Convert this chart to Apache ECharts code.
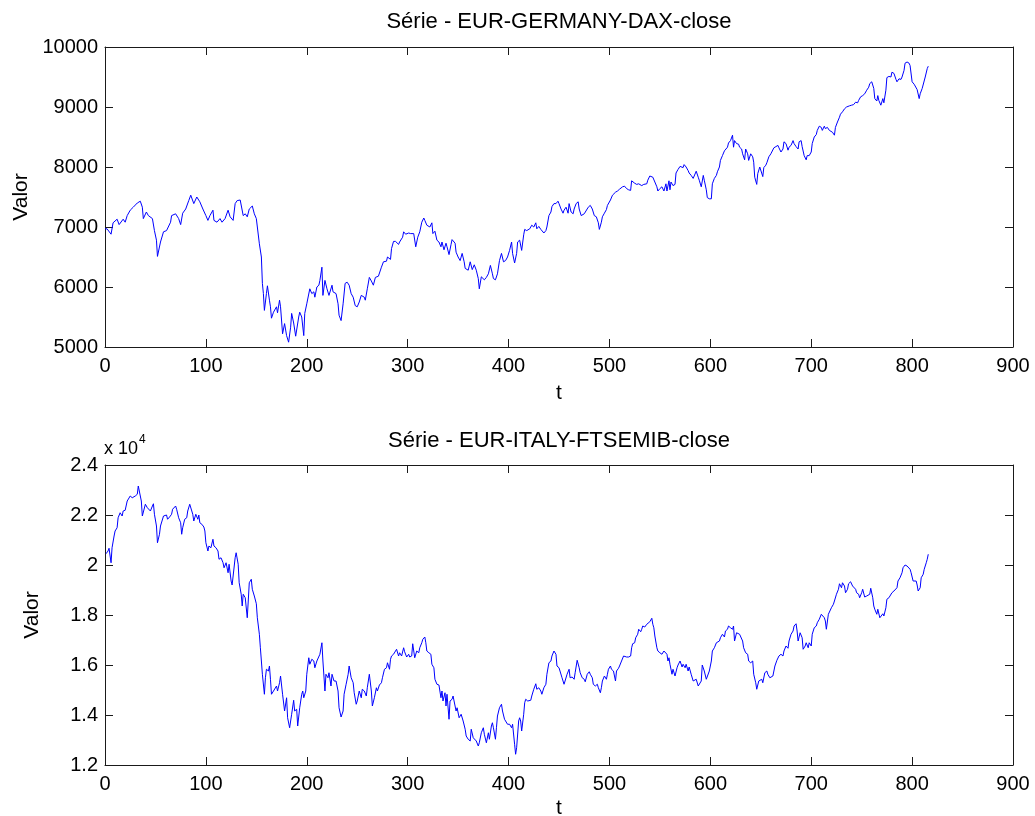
<!DOCTYPE html>
<html>
<head>
<meta charset="utf-8">
<script src="https://cdn.jsdelivr.net/npm/echarts@6/dist/echarts.min.js"></script>
<style>
  html, body { margin: 0; padding: 0; background: #fff; }
  #chart { width: 1035px; height: 816px; }
</style>
</head>
<body>
<div id="chart"></div>
<script>
// ========================================
// DATA
// ========================================

var xTicks = [0, 100, 200, 300, 400, 500, 600, 700, 800, 900];
var titles = ['Série - EUR-GERMANY-DAX-close', 'Série - EUR-ITALY-FTSEMIB-close'];

// [t, close]
var daxPoints = [
  [0,6970],[2,6970],[6,6880],[8,7070],[12,7130],[14,7040],[18,7130],[20,7080],[22,7190],[25,7280],
  [28,7330],[32,7400],[35,7430],[37,7330],[38,7140],[41,7250],[43,7190],[47,7140],[49,6940],[51,6780],
  [52,6510],[55,6750],[58,6920],[61,6940],[65,7080],[66,7190],[70,7220],[73,7140],[75,7040],[77,7230],
  [80,7300],[83,7440],[85,7530],[88,7390],[91,7500],[94,7420],[97,7300],[100,7190],[102,7110],[104,7190],
  [107,7280],[108,7110],[111,7080],[114,7140],[116,7080],[119,7140],[122,7280],[124,7170],[127,7110],[129,7390],
  [131,7440],[134,7450],[137,7190],[139,7220],[141,7170],[143,7300],[146,7350],[148,7220],[150,7140],[153,6720],
  [155,6500],[156,6060],[157,5890],[158,5610],[160,5890],[161,6020],[163,5780],[164,5670],[165,5480],[167,5580],
  [170,5670],[171,5570],[173,5780],[174,5670],[176,5220],[178,5390],[180,5190],[182,5080],[184,5330],[185,5560],
  [187,5400],[189,5180],[192,5500],[193,5580],[195,5500],[197,5190],[198,5560],[200,5720],[203,5970],[205,5890],
  [207,5920],[208,5830],[210,6000],[212,6030],[213,6110],[215,6330],[216,5860],[218,6110],[220,5970],[222,5860],
  [225,6030],[226,5920],[229,5890],[231,5720],[232,5530],[234,5440],[236,5720],[238,6060],[240,6080],[242,6030],
  [244,5890],[246,5830],[248,5690],[250,5670],[252,5750],[254,5860],[257,5830],[258,5780],[260,5970],[262,6160],
  [264,6100],[266,6030],[268,6160],[271,6180],[274,6330],[276,6420],[279,6430],[280,6500],[283,6460],[284,6640],
  [286,6760],[288,6760],[291,6710],[292,6750],[295,6830],[296,6920],[298,6880],[301,6900],[303,6890],[306,6890],
  [308,6670],[310,6830],[312,6920],[314,7080],[316,7150],[317,7110],[319,7030],[320,7060],[322,7000],[324,7070],
  [325,6890],[327,6930],[329,6780],[331,6750],[333,6670],[334,6750],[336,6620],[338,6730],[339,6670],[341,6540],
  [343,6710],[344,6790],[347,6730],[348,6580],[350,6500],[352,6440],[354,6560],[356,6420],[357,6310],[360,6280],
  [362,6420],[364,6290],[366,6370],[368,6280],[370,6140],[371,5970],[373,6170],[376,6120],[378,6160],[380,6220],
  [382,6360],[384,6220],[385,6140],[387,6120],[389,6220],[391,6440],[393,6560],[395,6420],[397,6440],[399,6500],
  [401,6610],[403,6750],[404,6560],[406,6400],[408,6560],[409,6750],[411,6780],[413,6610],[415,6870],[416,6960],
  [418,6940],[421,6970],[423,7030],[425,7000],[427,7070],[428,6970],[430,7010],[432,6960],[433,6990],[435,6900],
  [437,6940],[438,7000],[440,7190],[442,7250],[443,7340],[445,7390],[447,7390],[449,7430],[450,7390],[452,7300],
  [454,7230],[455,7280],[457,7330],[459,7230],[460,7390],[462,7250],[464,7220],[465,7300],[467,7390],[469,7420],
  [470,7300],[472,7190],[475,7220],[476,7250],[479,7330],[481,7360],[483,7300],[485,7190],[487,7170],[489,7070],
  [490,6960],[492,7080],[493,7170],[495,7230],[497,7290],[498,7360],[499,7380],[501,7450],[503,7530],[506,7580],
  [508,7600],[510,7630],[513,7670],[515,7680],[517,7640],[519,7620],[521,7610],[522,7770],[525,7730],[527,7710],
  [529,7720],[532,7690],[534,7710],[537,7720],[538,7780],[540,7850],[543,7830],[545,7750],[547,7670],[548,7600],
  [550,7640],[552,7670],[554,7600],[556,7720],[557,7600],[559,7770],[560,7620],[561,7750],[563,7690],[565,7710],
  [566,7900],[568,7960],[570,8010],[573,7990],[574,8040],[576,8000],[578,7940],[579,7900],[581,7860],[583,7810],
  [584,7840],[586,7930],[588,7830],[589,7780],[591,7670],[593,7860],[594,7780],[596,7620],[597,7490],[599,7470],
  [601,7470],[602,7720],[604,7810],[606,7860],[607,7920],[609,8000],[610,8110],[612,8190],[614,8270],[615,8300],
  [617,8330],[618,8400],[620,8440],[622,8530],[623,8330],[624,8440],[626,8390],[628,8380],[629,8330],[631,8300],
  [632,8220],[634,8120],[635,8300],[637,8220],[638,8110],[640,8220],[642,8170],[643,8080],[644,7830],[646,7710],
  [647,7890],[649,8000],[650,7970],[652,7840],[653,7990],[655,8030],[656,8070],[658,8170],[660,8220],[661,8250],
  [663,8320],[665,8340],[667,8360],[668,8320],[670,8250],[672,8300],[673,8420],[675,8390],[677,8280],[678,8330],
  [680,8360],[682,8440],[683,8390],[685,8340],[687,8300],[688,8420],[690,8440],[691,8340],[693,8190],[695,8120],
  [696,8190],[698,8190],[700,8250],[701,8390],[703,8500],[705,8540],[706,8610],[708,8680],[710,8660],[711,8610],
  [713,8680],[714,8640],[716,8660],[718,8610],[719,8610],[721,8580],[723,8530],[724,8660],[726,8750],[728,8830],
  [729,8880],[731,8920],[733,8970],[735,9000],[738,9020],[740,9030],[742,9040],[744,9080],[746,9070],[747,9110],
  [749,9170],[751,9190],[753,9220],[755,9280],[757,9330],[758,9390],[760,9420],[762,9310],[763,9140],[765,9100],
  [766,9190],[767,9110],[769,9030],[770,9000],[771,9140],[772,9070],[774,9280],[775,9490],[777,9510],[779,9500],
  [780,9580],[782,9560],[784,9460],[785,9420],[787,9470],[789,9460],[790,9500],[792,9610],[793,9730],[795,9750],
  [797,9730],[798,9690],[800,9420],[802,9380],[803,9390],[805,9290],[807,9140],[808,9220],[810,9310],[811,9330],
  [813,9500],[815,9640],[816,9680]
];

// [t, close]
var ftsePoints = [
  [1,20450],[3,20560],[4,20670],[6,20090],[7,20690],[9,21160],[10,21360],[12,21490],[13,21890],[15,22090],
  [17,21960],[18,22160],[20,22190],[22,22560],[23,22490],[25,22760],[27,22690],[28,22630],[30,22760],[32,22830],
  [33,23160],[34,23090],[36,22560],[37,21960],[38,21960],[40,22430],[42,22290],[43,22230],[45,22160],[47,22360],
  [48,22450],[49,22030],[51,21560],[52,20890],[54,21230],[55,21560],[58,21960],[61,22000],[62,21830],[64,21920],
  [66,22030],[67,22230],[70,22360],[71,22230],[73,21890],[75,21690],[76,21230],[77,21490],[79,21830],[81,21890],
  [82,22160],[84,22430],[85,22360],[87,22030],[88,21760],[90,22030],[92,21830],[93,22000],[94,21690],[96,21630],
  [98,21520],[99,21360],[100,20890],[102,20560],[103,20760],[105,20690],[107,21030],[108,20760],[110,20690],[112,20560],
  [113,20230],[115,20290],[117,20090],[118,19890],[120,20090],[122,19690],[123,20030],[125,19360],[126,19200],[127,19560],
  [129,20290],[130,20490],[132,20030],[133,19290],[135,18830],[136,18360],[137,18830],[139,18690],[141,17890],[142,18560],
  [143,19290],[145,19430],[146,19030],[148,18760],[150,18450],[151,17890],[153,17230],[154,16690],[155,16160],[156,15630],
  [158,14830],[159,15490],[160,15830],[162,15760],[163,15960],[164,15430],[165,14830],[167,14960],[170,15160],[171,14960],
  [173,15290],[174,15560],[176,14830],[178,14160],[180,14690],[181,13890],[183,13490],[185,14030],[187,14590],[188,14160],
  [190,14230],[191,13560],[193,14290],[195,14830],[196,14960],[197,14690],[199,14960],[200,15630],[202,16290],[203,16030],
  [205,16230],[207,16160],[208,15890],[210,16160],[211,16230],[213,16430],[215,16890],[216,16160],[218,14960],[219,15630],
  [221,15490],[222,15690],[224,15160],[225,15630],[227,15360],[229,15360],[231,14960],[232,14290],[234,13920],[236,14160],
  [237,14830],[239,15230],[241,15630],[242,15960],[244,15490],[246,15290],[247,14890],[249,14430],[250,14560],[252,14960],
  [254,14690],[255,15030],[257,14960],[259,14760],[260,15090],[262,15630],[264,14960],[265,14360],[267,14690],[269,15090],
  [270,14960],[272,15200],[274,15290],[275,15490],[277,15830],[279,15890],[280,16090],[282,15830],[283,16230],[284,16360],
  [286,16430],[287,16490],[289,16630],[291,16360],[292,16490],[294,16360],[296,16690],[297,16530],[299,16320],[301,16430],
  [302,16320],[304,16360],[305,16850],[307,16290],[309,16560],[311,16490],[312,16690],[314,16890],[315,17030],[317,17120],
  [318,16890],[319,16560],[321,16490],[323,16430],[324,16030],[326,15890],[327,15430],[329,15230],[331,15200],[333,14690],
  [334,14960],[335,14560],[337,14890],[338,14360],[339,14830],[341,13830],[342,14560],[344,14630],[345,14760],[346,14560],
  [348,14160],[349,14290],[351,13890],[353,14030],[355,13760],[357,13430],[358,13160],[360,13030],[362,12960],[363,13430],
  [365,13090],[366,13120],[368,12960],[370,12760],[371,12890],[373,13290],[375,13490],[376,13230],[378,12890],[380,13290],
  [381,13030],[383,13560],[384,13690],[385,13490],[387,13030],[388,13490],[389,13960],[391,14290],[393,14430],[394,14160],
  [396,13830],[397,13830],[399,13630],[401,13630],[403,13490],[404,13630],[406,12830],[407,12430],[408,12690],[410,13760],
  [411,13890],[412,13760],[413,13360],[415,14030],[416,14490],[417,14630],[419,14560],[422,14590],[423,14760],[425,15030],
  [427,15250],[428,15030],[430,15090],[432,14960],[433,14830],[435,15090],[437,15230],[438,15630],[440,16090],[442,16160],
  [443,16360],[445,16560],[447,16430],[448,15960],[450,15890],[451,15920],[453,15490],[455,15230],[456,15360],[458,15630],
  [460,15830],[461,15490],[463,15520],[465,15430],[466,15690],[468,16190],[470,15890],[471,15690],[473,15490],[475,15430],
  [476,15330],[478,15630],[480,15730],[481,15630],[483,15490],[484,15230],[486,15160],[488,15230],[489,15090],[491,14890],
  [492,15090],[493,15360],[495,15560],[497,15430],[498,15630],[499,15830],[501,15960],[502,15830],[504,15760],[506,15360],
  [507,15760],[509,15870],[510,15960],[512,16160],[514,16360],[515,16320],[517,16320],[519,16320],[521,16360],[522,16690],
  [523,16850],[525,16890],[526,17090],[528,17230],[529,17430],[531,17330],[532,17430],[533,17560],[535,17520],[537,17630],
  [538,17690],[540,17730],[542,17870],[543,17630],[544,17490],[545,17160],[547,16690],[548,16560],[550,16490],[551,16560],
  [552,16430],[554,16560],[555,16630],[557,16430],[558,16160],[559,16290],[560,16030],[562,15630],[563,15830],[564,15760],
  [565,15560],[567,15890],[568,16000],[570,16160],[572,15920],[573,16030],[575,15890],[576,16030],[578,15760],[579,15920],
  [581,15630],[583,15360],[584,15290],[586,15430],[588,15160],[589,15230],[591,15360],[592,16000],[594,15760],[596,15430],
  [597,15360],[599,15760],[601,16160],[602,16560],[604,16690],[606,16890],[607,16830],[609,16960],[610,17090],[612,17230],
  [614,17120],[615,17360],[617,17430],[618,17560],[620,17490],[622,17430],[623,17560],[624,16960],[626,17290],[627,17290],
  [629,17230],[630,17160],[632,16960],[633,16690],[635,16490],[637,16430],[638,16160],[640,16090],[642,16160],[643,15630],
  [645,15290],[646,15030],[648,15360],[649,15360],[651,15430],[652,15290],[654,15690],[656,15760],[657,15630],[659,15490],
  [660,15430],[662,15560],[664,15960],[666,16190],[667,16230],[668,16360],[670,16430],[672,16360],[673,16560],[675,16760],
  [677,16670],[678,16960],[680,17230],[682,17360],[683,17560],[685,17650],[686,17360],[687,16960],[689,17290],[690,17290],
  [691,17090],[692,16630],[694,16760],[695,16890],[697,16690],[698,16890],[700,16760],[701,17230],[703,17490],[705,17560],
  [706,17690],[708,17830],[710,18030],[711,18000],[713,17890],[714,17760],[715,17430],[717,18030],[718,18050],[720,18290],
  [722,18430],[723,18560],[725,18830],[727,19030],[728,19250],[730,19090],[731,19290],[733,19160],[734,18890],[736,19030],
  [737,19250],[739,19330],[741,19160],[742,19230],[744,19030],[745,18890],[747,18830],[748,18690],[750,18890],[751,19030],
  [753,18720],[755,18760],[756,18830],[758,18830],[759,19070],[761,18690],[762,18360],[763,18230],[765,18030],[766,18230],
  [768,17890],[769,17830],[771,18050],[772,17960],[774,18290],[775,18630],[777,18690],[778,18690],[780,18890],[782,18960],
  [783,18960],[785,19090],[786,19360],[788,19490],[790,19690],[791,19890],[793,20000],[795,19960],[796,19960],[798,19830],
  [799,19690],[801,19360],[802,19290],[804,19360],[805,19200],[806,18960],[808,19090],[809,19490],[811,19630],[812,19830],
  [814,20090],[815,20230],[816,20430]
];

// ========================================
// STYLE HELPERS
// ========================================

var FONT = "'Liberation Sans', Arial, sans-serif";
var AXIS_COLOR = '#1a1a1a';

function boxAxis(gridIndex, position, opts) {
  var isX = position === 'bottom' || position === 'top';
  var main = position === 'bottom' || position === 'left';
  var axis = {
    type: 'value',
    gridIndex: gridIndex,
    position: position,
    min: opts.min,
    max: opts.max,
    interval: opts.interval,
    axisLine: { show: true, onZero: false, lineStyle: { color: AXIS_COLOR, width: 1 } },
    axisTick: { show: true, inside: true, length: 8, lineStyle: { color: AXIS_COLOR, width: 1 } },
    splitLine: { show: false },
    axisLabel: {
      show: main,
      color: '#000',
      fontFamily: FONT,
      fontSize: 20,
      margin: isX ? 9 : 7,
      formatter: opts.formatter || function (v) { return String(v); }
    }
  };
  if (main && opts.name) {
    axis.name = opts.name;
    axis.nameLocation = 'middle';
    axis.nameGap = opts.nameGap;
    axis.nameTextStyle = { color: '#000', fontFamily: FONT, fontSize: 21 };
  }
  return axis;
}

var xOpts = { min: 0, max: 900, interval: 100 };
var daxY = { min: 5000, max: 10000, interval: 1000 };
var ftseY = {
  min: 12000, max: 24000, interval: 2000,
  formatter: function (v) { return String(Math.round(v / 1000) / 10); }
};

var chart = echarts.init(document.getElementById('chart'), null, { renderer: 'canvas' });

chart.setOption({
  animation: false,
  backgroundColor: '#fff',
  grid: [
    { left: 105, right: 22, top: 47, height: 300, outerBoundsMode: 'none', containLabel: false },
    { left: 105, right: 22, top: 465, height: 300, outerBoundsMode: 'none', containLabel: false }
  ],
  xAxis: [
    boxAxis(0, 'bottom', Object.assign({ name: 't', nameGap: 36 }, xOpts)),
    boxAxis(0, 'top', xOpts),
    boxAxis(1, 'bottom', Object.assign({ name: 't', nameGap: 33 }, xOpts)),
    boxAxis(1, 'top', xOpts)
  ],
  yAxis: [
    boxAxis(0, 'left', Object.assign({ name: 'Valor', nameGap: 70 }, daxY)),
    boxAxis(0, 'right', daxY),
    boxAxis(1, 'left', Object.assign({ name: 'Valor', nameGap: 62 }, ftseY)),
    boxAxis(1, 'right', ftseY)
  ],
  series: [
    {
      type: 'line',
      xAxisIndex: 0,
      yAxisIndex: 0,
      data: daxPoints,
      showSymbol: false,
      lineStyle: { color: '#0000ff', width: 1 }
    },
    {
      type: 'line',
      xAxisIndex: 2,
      yAxisIndex: 2,
      data: ftsePoints,
      showSymbol: false,
      lineStyle: { color: '#0000ff', width: 1 }
    }
  ],
  graphic: [
    { type: 'text', x: 559, y: 22, style: { text: titles[0], font: '22px ' + FONT, fill: '#000', align: 'center', verticalAlign: 'middle' } },
    { type: 'text', x: 559, y: 441, style: { text: titles[1], font: '22px ' + FONT, fill: '#000', align: 'center', verticalAlign: 'middle' } },
    { type: 'text', x: 104, y: 449, style: { text: 'x 10', font: '18px ' + FONT, fill: '#000', align: 'left', verticalAlign: 'middle' } },
    { type: 'text', x: 139, y: 440, style: { text: '4', font: '12px ' + FONT, fill: '#000', align: 'left', verticalAlign: 'middle' } }
  ]
});
</script>
</body>
</html>
